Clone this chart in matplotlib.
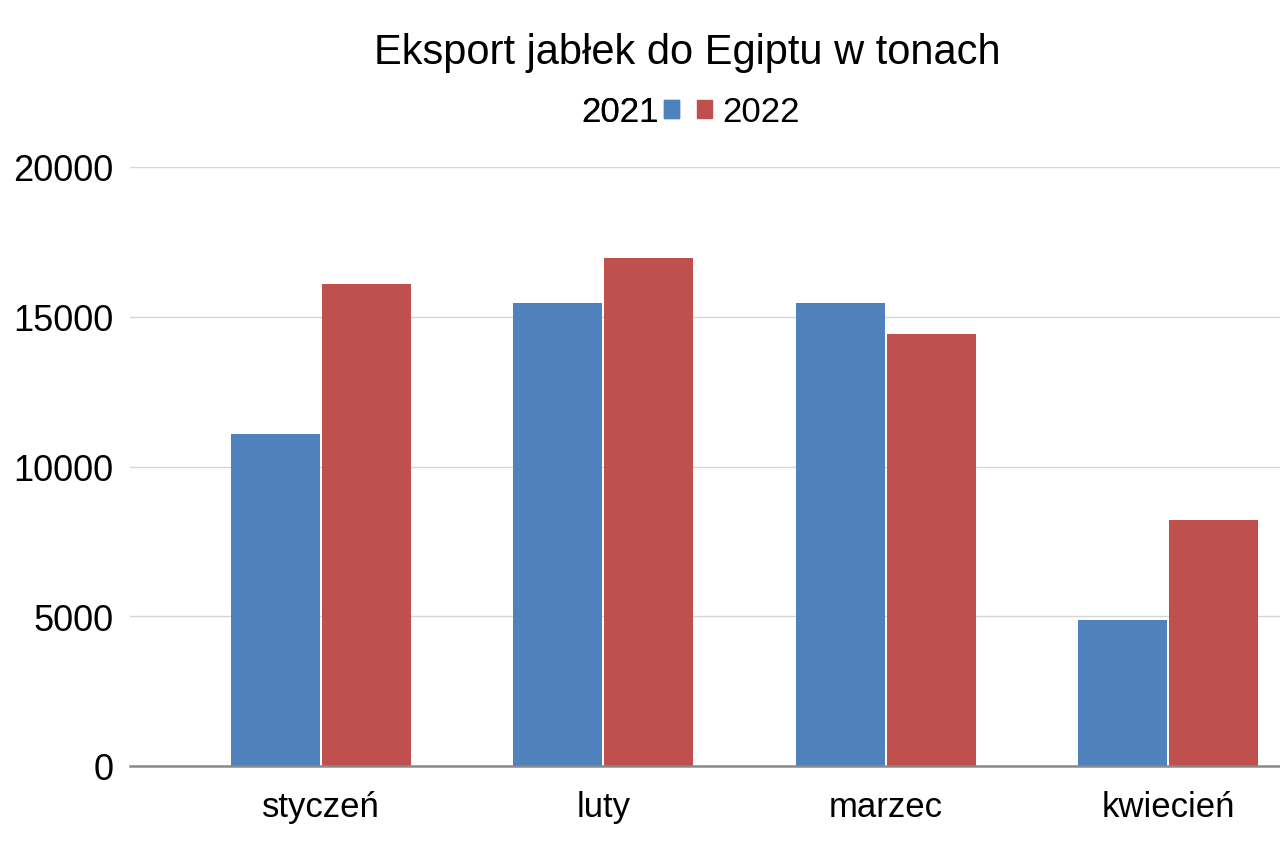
import matplotlib
matplotlib.use("Agg")
import matplotlib.pyplot as plt
import numpy as np
from matplotlib.patches import Patch

plt.rcParams['font.family'] = ['Liberation Sans', 'DejaVu Sans']

categories = ["styczeń", "luty", "marzec", "kwiecień"]
series_names = ["2021", "2022"]
values_2021 = [11100, 15450, 15470, 4880]
values_2022 = [16100, 16950, 14430, 8200]
yticks = [0, 5000, 10000, 15000, 20000]

blue = "#4f81bd"
red = "#c0504d"

fig = plt.figure(figsize=(12.8, 8.53), dpi=100)
ax = fig.add_axes([130/1280, 86/853, 1 - 130/1280, (767-168)/853])

x = np.arange(len(categories))
w = 0.315
off = w/2 + 0.0035
ax.bar(x - off, values_2021, width=w, color=blue, label=series_names[0])
ax.bar(x + off, values_2022, width=w, color=red, label=series_names[1])

ax.set_xlim(-0.6766, 3.397)
ax.set_ylim(0, 20000)
ax.set_yticks(yticks)
ax.set_yticklabels([str(v) for v in yticks])
ax.set_xticks(x)
ax.set_xticklabels(categories)
ax.tick_params(axis='y', length=0, pad=12, labelsize=26)
ax.tick_params(axis='x', length=0, pad=17, labelsize=25)
ax.grid(axis='y', color='#d6d6d6', linewidth=1)
ax.set_axisbelow(True)
for s in ['top', 'right', 'left']:
    ax.spines[s].set_visible(False)
ax.spines['bottom'].set_color('#8a8a8a')
ax.spines['bottom'].set_linewidth(1.8)

fig.text(687/1280, 1 - 53/853, "Eksport jabłek do Egiptu w tonach", ha='center', va='center', fontsize=30)

l1 = fig.legend(handles=[Patch(color=blue)], labels=[series_names[0]], loc='center right',
                bbox_to_anchor=(679/1280, 1 - 113/853), frameon=False, markerfirst=False,
                fontsize=25, handlelength=0.43, handleheight=0.43, handletextpad=0.15,
                borderpad=0, borderaxespad=0)
l2 = fig.legend(handles=[Patch(color=red)], labels=[series_names[1]], loc='center left',
                bbox_to_anchor=(697/1280, 1 - 113/853), frameon=False,
                fontsize=25, handlelength=0.43, handleheight=0.43, handletextpad=0.3,
                borderpad=0, borderaxespad=0)
fig.add_artist(l1)

fig.savefig("out.png", dpi=100)
